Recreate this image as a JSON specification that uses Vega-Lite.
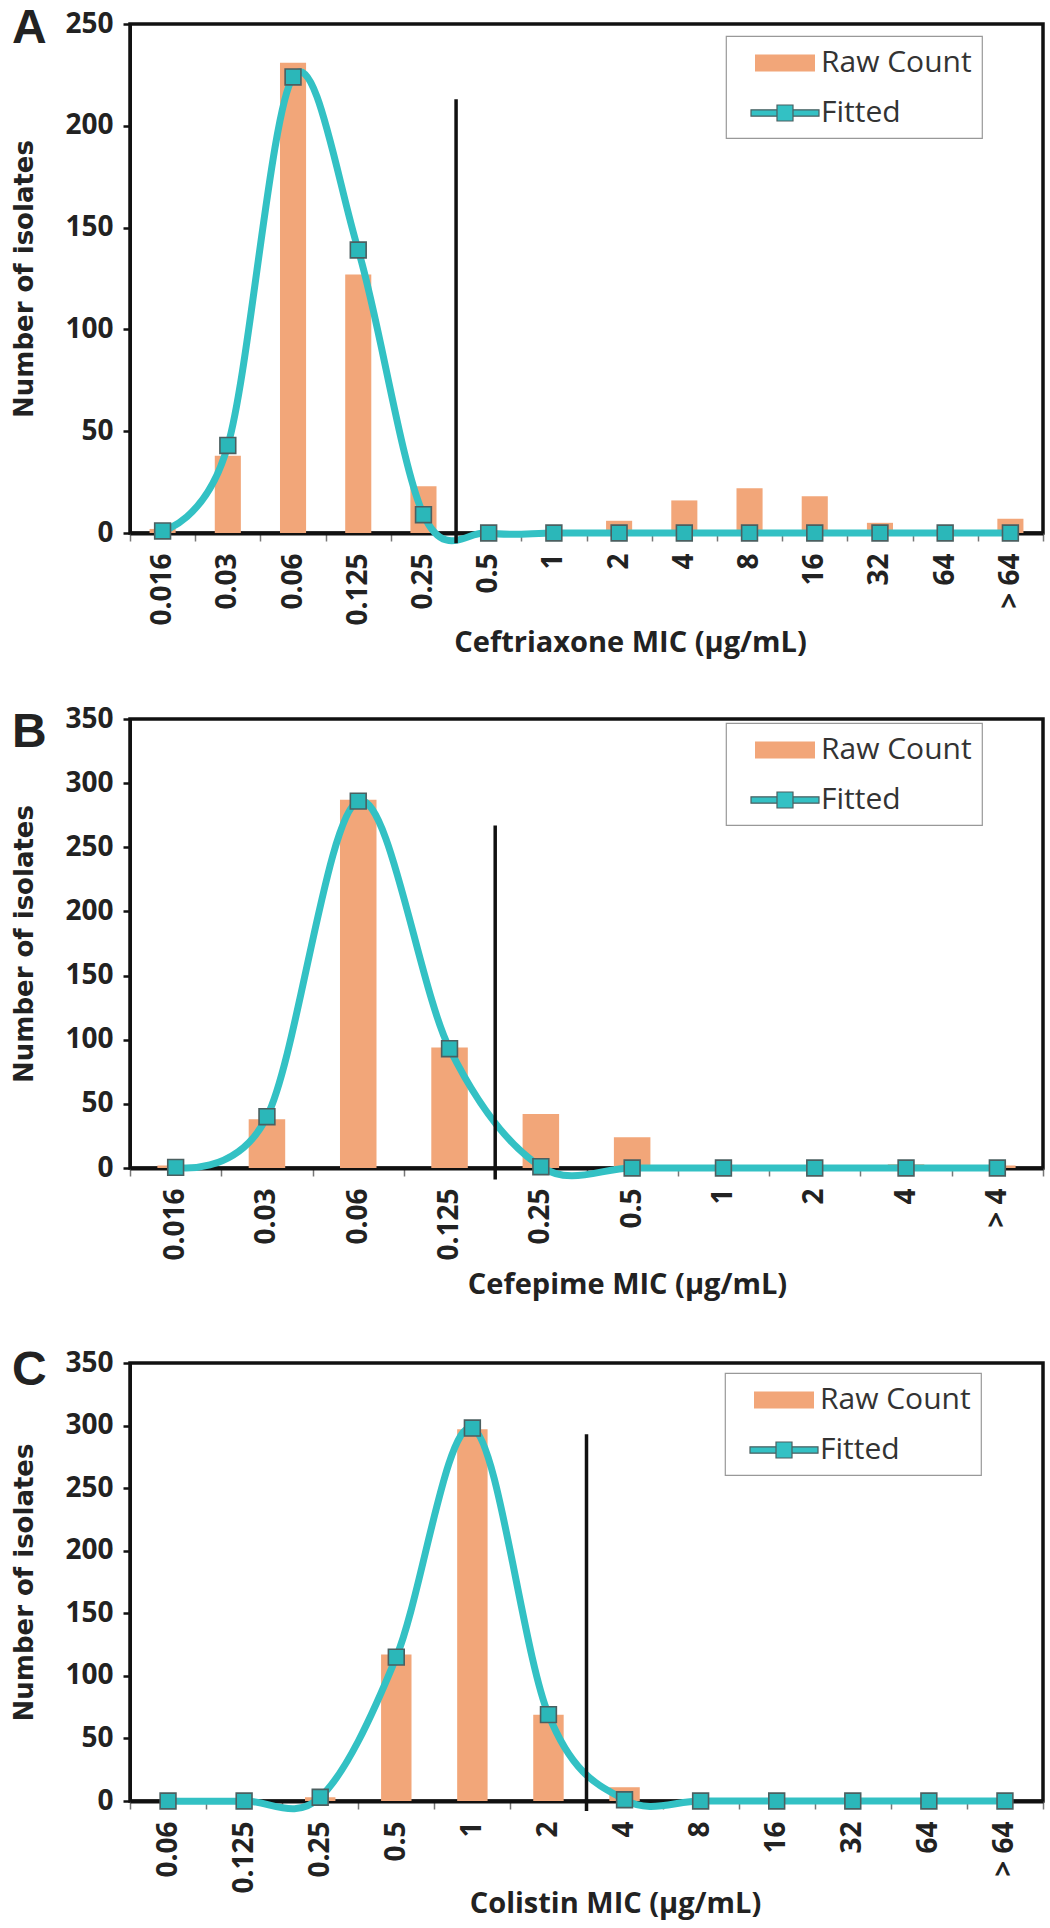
{
  "$schema": "https://vega.github.io/schema/vega-lite/v6.json",
  "background": "white",
  "padding": {"left": 10, "top": 3, "right": 5, "bottom": 5},
  "spacing": 44,
  "resolve": {"scale": {"color": "independent"}, "legend": {"color": "independent"}},
  "config": {
    "view": {"stroke": "#111", "strokeWidth": 3.5},
    "axis": {"grid": false, "labelFont": "Open Sans", "labelFontWeight": "bold", "labelFontSize": 28, "labelColor": "#222", "domainColor": "#111", "tickColor": "#111"},
    "axisY": {"titleFont": "DejaVu Sans", "titleFontSize": 26, "titleFontWeight": "bold", "titleColor": "#222", "titlePadding": 27, "tickSize": 7, "tickWidth": 2.5, "domainWidth": 3, "labelPadding": 10},
    "axisX": {"labelAngle": -90, "tickBand": "extent", "tickSize": 8, "tickWidth": 1.5, "tickColor": "#777", "domainWidth": 4, "labelPadding": 12, "titleFont": "Open Sans", "titleFontSize": 29, "titleFontWeight": "bold", "titleColor": "#222", "titlePadding": 3, "titleX": 500},
    "legend": {"orient": "none", "padding": 10, "strokeColor": "#999", "strokeWidth": 1.2, "fillColor": "white", "labelFont": "Open Sans", "labelFontSize": 30, "labelColor": "#333", "symbolSize": 1024, "symbolOffset": 32, "labelOffset": 19, "rowPadding": 18, "labelExpr": "datum.label + '\u00a0\u00a0\u00a0'"},
    "title": {"font": "Liberation Sans", "fontSize": 48, "fontWeight": "bold", "color": "#222", "anchor": "start", "frame": "bounds", "baseline": "alphabetic"}
  },
  "datasets": {
    "A": [
      {"mic": "0.016", "raw": 2, "fitted": 1},
      {"mic": "0.03", "raw": 38, "fitted": 43},
      {"mic": "0.06", "raw": 231, "fitted": 224},
      {"mic": "0.125", "raw": 127, "fitted": 139},
      {"mic": "0.25", "raw": 23, "fitted": 9},
      {"mic": "0.5", "raw": 0, "fitted": 0},
      {"mic": "1", "raw": 0, "fitted": 0},
      {"mic": "2", "raw": 6, "fitted": 0},
      {"mic": "4", "raw": 16, "fitted": 0},
      {"mic": "8", "raw": 22, "fitted": 0},
      {"mic": "16", "raw": 18, "fitted": 0},
      {"mic": "32", "raw": 5, "fitted": 0},
      {"mic": "64", "raw": 0, "fitted": 0},
      {"mic": "> 64", "raw": 7, "fitted": 0}
    ],
    "B": [
      {"mic": "0.016", "raw": 2, "fitted": 0.5},
      {"mic": "0.03", "raw": 38, "fitted": 40},
      {"mic": "0.06", "raw": 287, "fitted": 286},
      {"mic": "0.125", "raw": 94, "fitted": 93},
      {"mic": "0.25", "raw": 42, "fitted": 1},
      {"mic": "0.5", "raw": 24, "fitted": 0},
      {"mic": "1", "raw": 0, "fitted": 0},
      {"mic": "2", "raw": 0, "fitted": 0},
      {"mic": "4", "raw": 3, "fitted": 0},
      {"mic": "> 4", "raw": 2, "fitted": 0}
    ],
    "C": [
      {"mic": "0.06", "raw": 0, "fitted": 0},
      {"mic": "0.125", "raw": 0, "fitted": 0},
      {"mic": "0.25", "raw": 3, "fitted": 3},
      {"mic": "0.5", "raw": 117, "fitted": 115},
      {"mic": "1", "raw": 297, "fitted": 298},
      {"mic": "2", "raw": 69, "fitted": 69},
      {"mic": "4", "raw": 11, "fitted": 1},
      {"mic": "8", "raw": 0, "fitted": 0},
      {"mic": "16", "raw": 0, "fitted": 0},
      {"mic": "32", "raw": 0, "fitted": 0},
      {"mic": "64", "raw": 0, "fitted": 0},
      {"mic": "> 64", "raw": 0, "fitted": 0}
    ],
    "ruleA": [{"mic": "0.25", "top": 213, "bottom": -5}],
    "ruleB": [{"mic": "0.125", "top": 267, "bottom": -9}],
    "ruleC": [{"mic": "2", "top": 293, "bottom": -8}]
  },
  "vconcat": [
    {
      "width": 913, "height": 509,
      "title": {"text": "A", "offset": -43},
      "layer": [
        {"data": {"name": "A"}, "mark": {"type": "bar", "width": {"band": 0.4}},
         "encoding": {
           "x": {"field": "mic", "type": "nominal", "sort": null, "scale": {"domain": ["0.016","0.03","0.06","0.125","0.25","0.5","1","2","4","8","16","32","64","> 64"], "paddingInner": 0, "paddingOuter": 0}, "axis": {"title": "Ceftriaxone MIC (μg/mL)"}},
           "y": {"field": "raw", "type": "quantitative", "scale": {"domain": [0, 250], "nice": false}, "axis": {"title": "Number of isolates", "values": [0, 50, 100, 150, 200, 250]}},
           "color": {"datum": "Raw Count", "type": "nominal", "scale": {"domain": ["Raw Count", "Fitted"], "range": ["#F2A679", "#33C1C4"]},
             "legend": {"title": null, "legendX": 596, "legendY": 12,
               "encode": {"symbols": {"update": {
                 "shape": {"signal": "datum.value === 'Raw Count' ? 'M-1.875,-0.53H1.875V0.53H-1.875Z' : 'M-2.125,-0.2H-0.5V0.2H-2.125Z M0.5,-0.2H2.125V0.2H0.5Z M-0.5,-0.5H0.5V0.5H-0.5Z'"},
                 "stroke": {"signal": "datum.value === 'Fitted' ? '#4B5F60' : 'transparent'"},
                 "strokeWidth": {"value": 1.2}, "opacity": {"value": 1}}}}}}
         }},
        {"data": {"name": "A"}, "mark": {"type": "line", "interpolate": "cardinal", "color": "#33C1C4", "strokeWidth": 7},
         "encoding": {
           "x": {"field": "mic", "type": "nominal", "sort": null, "axis": {"title": "Ceftriaxone MIC (μg/mL)"}},
           "y": {"field": "fitted", "type": "quantitative", "axis": {"title": "Number of isolates"}}
         }},
        {"data": {"name": "ruleA"}, "mark": {"type": "rule", "color": "#111", "strokeWidth": 3.5},
         "encoding": {
           "x": {"field": "mic", "type": "nominal", "bandPosition": 1, "axis": {"title": "Ceftriaxone MIC (μg/mL)"}},
           "y": {"field": "top", "type": "quantitative", "axis": {"title": "Number of isolates"}},
           "y2": {"field": "bottom"}
         }},
        {"data": {"name": "A"}, "mark": {"type": "point", "shape": "square", "filled": true, "size": 250, "fill": "#2BB7B9", "stroke": "#4B5F60", "strokeWidth": 1.6, "opacity": 1},
         "encoding": {
           "x": {"field": "mic", "type": "nominal", "sort": null, "axis": {"title": "Ceftriaxone MIC (μg/mL)"}},
           "y": {"field": "fitted", "type": "quantitative", "axis": {"title": "Number of isolates"}}
         }}
      ]
    },
    {
      "width": 913, "height": 449,
      "title": {"text": "B", "offset": -52},
      "layer": [
        {"data": {"name": "B"}, "mark": {"type": "bar", "width": {"band": 0.4}},
         "encoding": {
           "x": {"field": "mic", "type": "nominal", "sort": null, "scale": {"domain": ["0.016","0.03","0.06","0.125","0.25","0.5","1","2","4","> 4"], "paddingInner": 0, "paddingOuter": 0}, "axis": {"title": "Cefepime MIC (μg/mL)", "titlePadding": 10, "titleX": 497}},
           "y": {"field": "raw", "type": "quantitative", "scale": {"domain": [0, 350], "nice": false}, "axis": {"title": "Number of isolates", "values": [0, 50, 100, 150, 200, 250, 300, 350]}},
           "color": {"datum": "Raw Count", "type": "nominal", "scale": {"domain": ["Raw Count", "Fitted"], "range": ["#F2A679", "#33C1C4"]},
             "legend": {"title": null, "legendX": 596, "legendY": 4, "labelExpr": "datum.label + '\u00a0\u00a0\u00a0\u00a0\u00a0\u00a0'",
               "encode": {"symbols": {"update": {
                 "shape": {"signal": "datum.value === 'Raw Count' ? 'M-1.875,-0.53H1.875V0.53H-1.875Z' : 'M-2.125,-0.2H-0.5V0.2H-2.125Z M0.5,-0.2H2.125V0.2H0.5Z M-0.5,-0.5H0.5V0.5H-0.5Z'"},
                 "stroke": {"signal": "datum.value === 'Fitted' ? '#4B5F60' : 'transparent'"},
                 "strokeWidth": {"value": 1.2}, "opacity": {"value": 1}}}}}}
         }},
        {"data": {"name": "B"}, "mark": {"type": "line", "interpolate": "cardinal", "color": "#33C1C4", "strokeWidth": 7},
         "encoding": {
           "x": {"field": "mic", "type": "nominal", "sort": null, "axis": {"title": "Cefepime MIC (μg/mL)", "titlePadding": 10, "titleX": 497}},
           "y": {"field": "fitted", "type": "quantitative", "axis": {"title": "Number of isolates"}}
         }},
        {"data": {"name": "ruleB"}, "mark": {"type": "rule", "color": "#111", "strokeWidth": 3.5},
         "encoding": {
           "x": {"field": "mic", "type": "nominal", "bandPosition": 1, "axis": {"title": "Cefepime MIC (μg/mL)", "titlePadding": 10, "titleX": 497}},
           "y": {"field": "top", "type": "quantitative", "axis": {"title": "Number of isolates"}},
           "y2": {"field": "bottom"}
         }},
        {"data": {"name": "B"}, "mark": {"type": "point", "shape": "square", "filled": true, "size": 250, "fill": "#2BB7B9", "stroke": "#4B5F60", "strokeWidth": 1.6, "opacity": 1},
         "encoding": {
           "x": {"field": "mic", "type": "nominal", "sort": null, "axis": {"title": "Cefepime MIC (μg/mL)", "titlePadding": 10, "titleX": 497}},
           "y": {"field": "fitted", "type": "quantitative", "axis": {"title": "Number of isolates"}}
         }}
      ]
    },
    {
      "width": 913, "height": 438,
      "title": {"text": "C", "offset": -46},
      "layer": [
        {"data": {"name": "C"}, "mark": {"type": "bar", "width": {"band": 0.4}},
         "encoding": {
           "x": {"field": "mic", "type": "nominal", "sort": null, "scale": {"domain": ["0.06","0.125","0.25","0.5","1","2","4","8","16","32","64","> 64"], "paddingInner": 0, "paddingOuter": 0}, "axis": {"title": "Colistin MIC (μg/mL)", "titlePadding": -4, "titleX": 485}},
           "y": {"field": "raw", "type": "quantitative", "scale": {"domain": [0, 350], "nice": false}, "axis": {"title": "Number of isolates", "values": [0, 50, 100, 150, 200, 250, 300, 350]}},
           "color": {"datum": "Raw Count", "type": "nominal", "scale": {"domain": ["Raw Count", "Fitted"], "range": ["#F2A679", "#33C1C4"]},
             "legend": {"title": null, "legendX": 595, "legendY": 10, "labelExpr": "datum.label + '\u00a0\u00a0\u00a0\u00a0\u00a0\u00a0'",
               "encode": {"symbols": {"update": {
                 "shape": {"signal": "datum.value === 'Raw Count' ? 'M-1.875,-0.53H1.875V0.53H-1.875Z' : 'M-2.125,-0.2H-0.5V0.2H-2.125Z M0.5,-0.2H2.125V0.2H0.5Z M-0.5,-0.5H0.5V0.5H-0.5Z'"},
                 "stroke": {"signal": "datum.value === 'Fitted' ? '#4B5F60' : 'transparent'"},
                 "strokeWidth": {"value": 1.2}, "opacity": {"value": 1}}}}}}
         }},
        {"data": {"name": "C"}, "mark": {"type": "line", "interpolate": "cardinal", "color": "#33C1C4", "strokeWidth": 7},
         "encoding": {
           "x": {"field": "mic", "type": "nominal", "sort": null, "axis": {"title": "Colistin MIC (μg/mL)", "titlePadding": -4, "titleX": 485}},
           "y": {"field": "fitted", "type": "quantitative", "axis": {"title": "Number of isolates"}}
         }},
        {"data": {"name": "ruleC"}, "mark": {"type": "rule", "color": "#111", "strokeWidth": 3.5},
         "encoding": {
           "x": {"field": "mic", "type": "nominal", "bandPosition": 1, "axis": {"title": "Colistin MIC (μg/mL)", "titlePadding": -4, "titleX": 485}},
           "y": {"field": "top", "type": "quantitative", "axis": {"title": "Number of isolates"}},
           "y2": {"field": "bottom"}
         }},
        {"data": {"name": "C"}, "mark": {"type": "point", "shape": "square", "filled": true, "size": 250, "fill": "#2BB7B9", "stroke": "#4B5F60", "strokeWidth": 1.6, "opacity": 1},
         "encoding": {
           "x": {"field": "mic", "type": "nominal", "sort": null, "axis": {"title": "Colistin MIC (μg/mL)", "titlePadding": -4, "titleX": 485}},
           "y": {"field": "fitted", "type": "quantitative", "axis": {"title": "Number of isolates"}}
         }}
      ]
    }
  ]
}
